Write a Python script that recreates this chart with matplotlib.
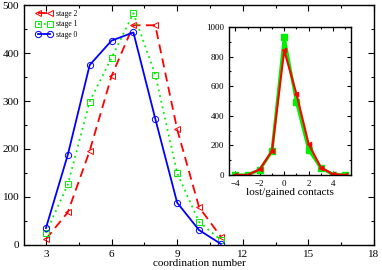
import matplotlib
matplotlib.use('Agg')
import matplotlib.pyplot as plt
from matplotlib.ticker import MultipleLocator

plt.rcParams['font.family'] = ['Liberation Serif', 'DejaVu Serif']

# main panel: coordination number distribution
coord = [3, 4, 5, 6, 7, 8, 9, 10, 11]
stage2 = [12, 68, 196, 352, 458, 458, 241, 79, 17]
stage1 = [25, 126, 299, 390, 483, 355, 150, 48, 10]
stage0 = [35, 188, 375, 426, 443, 263, 88, 31, 2]

# inset: lost/gained contacts
dcont = [-4, -3, -2, -1, 0, 1, 2, 3, 4, 5]
inset_green = [0, 0, 35, 160, 930, 495, 170, 47, 3, 0]
inset_red = [0, 0, 38, 162, 842, 548, 209, 50, 5, 0]


def style_ticks(ax, size):
    ax.tick_params(which='both', direction='in', top=True, right=True,
                   labelsize=size, width=0.8)
    ax.tick_params(which='major', length=4)
    ax.tick_params(which='minor', length=2)
    for s in ax.spines.values():
        s.set_linewidth(1.0)


fig = plt.figure(figsize=(3.82, 2.70), dpi=100)
ax = fig.add_axes([0.063, 0.093, 0.916, 0.888])

ax.plot(coord, stage2, color='red', ls=(0, (5, 3)), lw=1.3, marker='<',
        ms=4.5, mfc='none', mew=0.7, label='stage 2')
ax.plot(coord, stage1, color='#00ee00', ls=(0, (1, 2.2)), lw=1.3, marker='s',
        ms=4, mfc='none', mew=0.7, label='stage 1')
ax.plot(coord, stage0, color='blue', ls='-', lw=1.3, marker='o',
        ms=4.5, mfc='none', mew=0.7, label='stage 0')

ax.set_xlim(2, 18)
ax.set_ylim(0, 500)
ax.xaxis.set_major_locator(MultipleLocator(3))
ax.xaxis.set_minor_locator(MultipleLocator(1.5))
ax.yaxis.set_major_locator(MultipleLocator(100))
ax.yaxis.set_minor_locator(MultipleLocator(50))
style_ticks(ax, 8)
ax.set_xlabel('coordination number', fontsize=8, labelpad=0)

ax.legend(loc='upper left', bbox_to_anchor=(0.02, 1.0), frameon=False,
          fontsize=5.5, numpoints=2, handlelength=2.2, labelspacing=0.35,
          handletextpad=0.4, borderaxespad=0.2)

ins = fig.add_axes([0.600, 0.352, 0.320, 0.548])
ins.plot(dcont, inset_green, color='#00ee00', lw=2.2, marker='s', ms=4)
ins.plot(dcont, inset_red, color='red', lw=1.5, marker='<', ms=3)
ins.set_xlim(-4.5, 5.5)
ins.set_ylim(0, 1000)
ins.xaxis.set_major_locator(MultipleLocator(2))
ins.xaxis.set_minor_locator(MultipleLocator(1))
ins.yaxis.set_major_locator(MultipleLocator(200))
ins.yaxis.set_minor_locator(MultipleLocator(100))
style_ticks(ins, 6.5)
ins.tick_params(which='major', length=3)
ins.tick_params(which='minor', length=1.5)
ins.set_xlabel('lost/gained contacts', fontsize=8, labelpad=0)

fig.savefig('out.png', dpi=100)
